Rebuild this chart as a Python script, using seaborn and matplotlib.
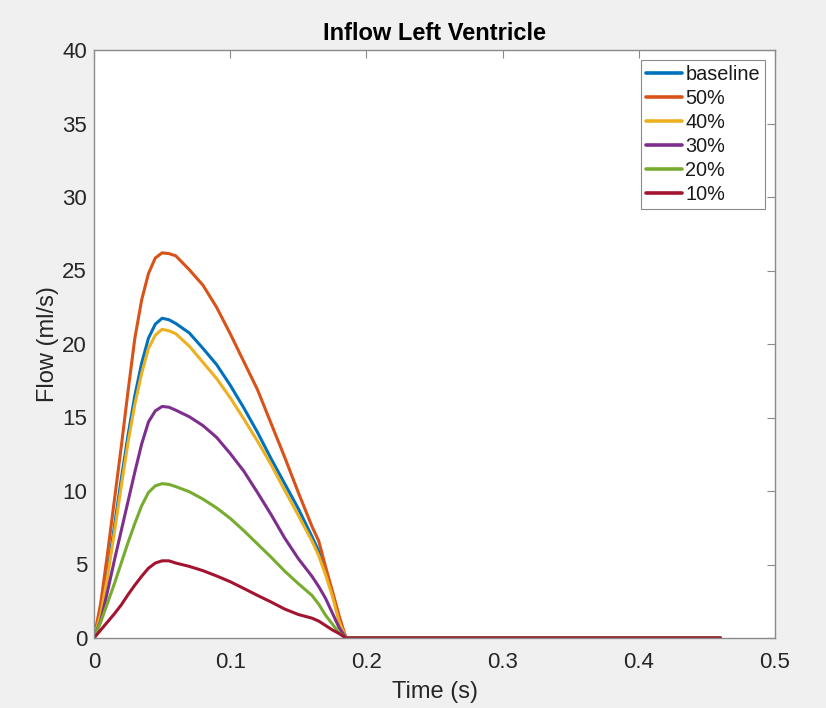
import matplotlib
matplotlib.use("Agg")
import matplotlib.pyplot as plt
import seaborn as sns
import pandas as pd
from matplotlib.ticker import FixedLocator, FuncFormatter

# ---- data ----
time_s = [0, 0.005, 0.01, 0.015, 0.02, 0.025, 0.03, 0.035, 0.04, 0.045, 0.05, 0.055,
          0.06, 0.07, 0.08, 0.09, 0.10, 0.11, 0.12, 0.13, 0.14, 0.15, 0.16, 0.165,
          0.17, 0.175, 0.18, 0.185, 0.19, 0.46]

baseline = [0, 1.8, 4.5, 7.6, 10.8, 13.8, 16.5, 18.7, 20.4, 21.35, 21.75, 21.65,
            21.4, 20.75, 19.7, 18.6, 17.2, 15.65, 14.0, 12.2, 10.5, 8.8, 6.9, 5.9,
            4.6, 3.05, 1.2, 0, 0, 0]
pct50 = [0, 2.4, 5.8, 9.4, 13.0, 16.8, 20.4, 23.0, 24.8, 25.85, 26.2, 26.15,
         26.0, 25.05, 24.0, 22.5, 20.7, 18.8, 16.9, 14.6, 12.3, 9.9, 7.6, 6.6,
         4.85, 3.2, 1.5, 0, 0, 0]
pct40 = [0, 1.6, 4.2, 7.2, 10.3, 13.3, 15.9, 18.0, 19.7, 20.6, 21.0, 20.9,
         20.7, 19.85, 18.75, 17.65, 16.35, 14.9, 13.4, 11.8, 10.05, 8.35, 6.6, 5.6,
         4.3, 2.85, 1.1, 0, 0, 0]
pct30 = [0, 1.2, 3.2, 5.3, 7.3, 9.3, 11.3, 13.2, 14.7, 15.45, 15.75, 15.7,
         15.5, 15.05, 14.45, 13.65, 12.55, 11.35, 9.9, 8.4, 6.8, 5.4, 4.2, 3.5,
         2.7, 1.7, 0.7, 0, 0, 0]
pct20 = [0, 1.1, 2.4, 3.7, 5.1, 6.5, 7.8, 9.0, 9.9, 10.35, 10.5, 10.45,
         10.3, 9.95, 9.45, 8.85, 8.14, 7.3, 6.4, 5.5, 4.55, 3.7, 2.9, 2.3,
         1.55, 0.95, 0.35, 0, 0, 0]
pct10 = [0, 0.55, 1.1, 1.65, 2.25, 2.95, 3.6, 4.2, 4.75, 5.1, 5.25, 5.25,
         5.1, 4.87, 4.58, 4.22, 3.83, 3.37, 2.9, 2.45, 1.97, 1.6, 1.35, 1.15,
         0.85, 0.55, 0.3, 0, 0, 0]

series_names = ["baseline", "50%", "40%", "30%", "20%", "10%"]
series_values = [baseline, pct50, pct40, pct30, pct20, pct10]
series_colors = ["#0072BD", "#D95319", "#EDB120", "#7E2F8E", "#77AC30", "#A2142F"]

x_ticks = [0, 0.1, 0.2, 0.3, 0.4, 0.5]
y_ticks = [0, 5, 10, 15, 20, 25, 30, 35, 40]

rows = []
for name, vals in zip(series_names, series_values):
    for t, v in zip(time_s, vals):
        rows.append({"Time": t, "Flow": v, "series": name})
df = pd.DataFrame(rows)

# ---- style ----
sns.set_style("white")
plt.rcParams["font.family"] = ["Liberation Sans", "DejaVu Sans"]
plt.rcParams["xtick.direction"] = "in"
plt.rcParams["ytick.direction"] = "in"

fig = plt.figure(figsize=(8.26, 7.08), dpi=100, facecolor="#f0f0f0")
ax = fig.add_axes([94 / 826, 1 - 638 / 708, (775 - 94) / 826, (638 - 50) / 708])
ax.set_facecolor("white")

sns.lineplot(data=df, x="Time", y="Flow", hue="series", hue_order=series_names,
             palette=dict(zip(series_names, series_colors)), linewidth=2.2,
             ax=ax, estimator=None, sort=False)

ax.set_xlim(0, 0.5)
ax.set_ylim(0, 40)
ax.xaxis.set_major_locator(FixedLocator(x_ticks))
ax.yaxis.set_major_locator(FixedLocator(y_ticks))
ax.xaxis.set_major_formatter(FuncFormatter(lambda v, p: "0" if v == 0 else f"{v:g}"))
ax.tick_params(axis="both", which="major", direction="in", length=6, width=0.8,
               color="#8a8a8a", labelsize=16, labelcolor="#262626",
               top=True, right=True)
ax.tick_params(axis="x", pad=10)
ax.tick_params(axis="y", pad=5)

for sp in ax.spines.values():
    sp.set_color("#8a8a8a")
    sp.set_linewidth(1.0)

ax.set_xlabel("Time (s)", fontsize=17, color="#262626", labelpad=6)
ax.set_ylabel("Flow (ml/s)", fontsize=17, color="#262626", labelpad=2.5)
ax.set_title("Inflow Left Ventricle", fontsize=17, fontweight="bold", color="black", pad=7)

leg = ax.legend(loc="upper right", bbox_to_anchor=(0.9853, 0.983), frameon=True,
                fancybox=False, edgecolor="#8a8a8a", framealpha=1, fontsize=14.3,
                handlelength=1.85, handletextpad=0.15, labelspacing=0.25,
                borderpad=0.25, borderaxespad=0.0)
leg.get_frame().set_linewidth(0.8)
for line in leg.get_lines():
    line.set_linewidth(2.6)
for txt in leg.get_texts():
    txt.set_color("#1a1a1a")

fig.savefig("out.png", dpi=100, facecolor=fig.get_facecolor())
